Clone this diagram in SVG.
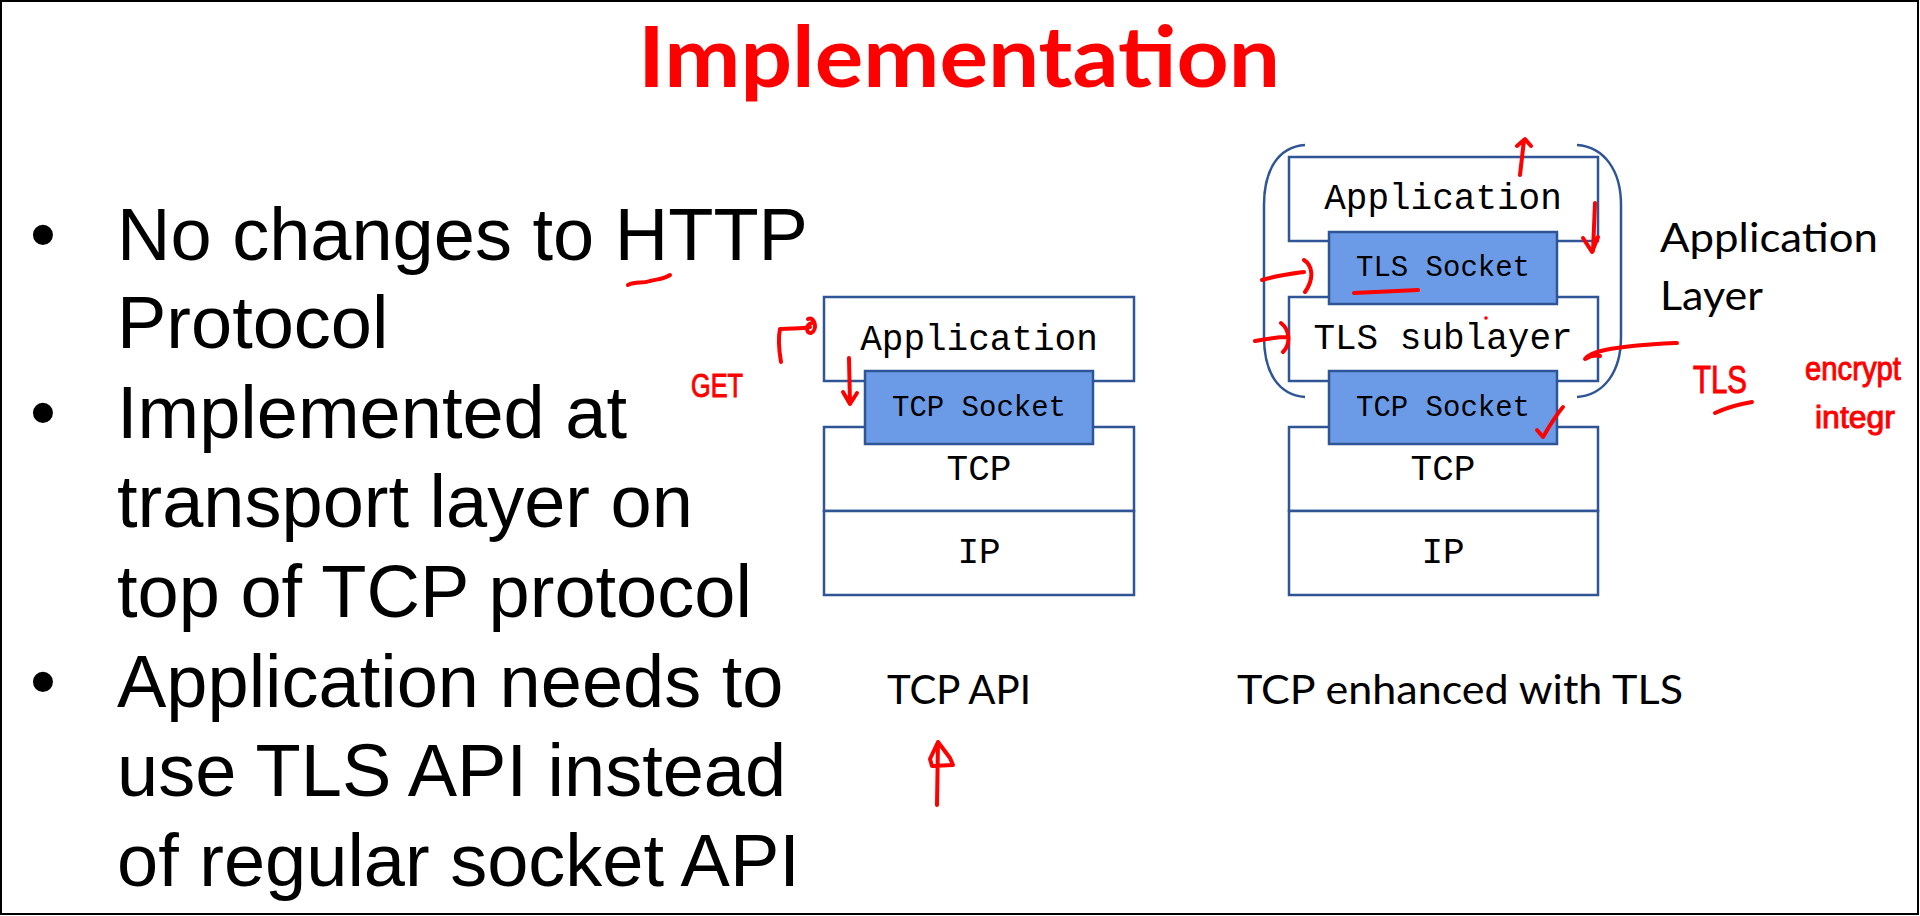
<svg xmlns="http://www.w3.org/2000/svg" width="1920" height="916" viewBox="0 0 1920 916">
  <defs>
    <style>
      .title { font-family: Lato, "Liberation Sans", sans-serif; font-weight: 700; font-size: 84px; fill: #FF0000; }
      .bullet { font-family: "Liberation Sans", Arial, sans-serif; font-size: 74px; fill: #000; }
      .caption { font-family: Lato, "Liberation Sans", sans-serif; font-size: 40px; fill: #000; }
      .layer rect { fill: #FFFFFF; stroke: #2F5597; stroke-width: 2.5; }
      .layer.sock rect { fill: #6B9BE6; }
      .layer text { font-family: "Liberation Mono", "Courier New", monospace; font-size: 36px; fill: #000; text-anchor: middle; }
      .layer.sock text { font-size: 29px; }
      .brace { fill: none; stroke: #2F5597; stroke-width: 2.5; }
      .ink { fill: none; stroke: #FF0000; stroke-width: 4; stroke-linecap: round; stroke-linejoin: round; }
      .inktext { font-family: "Liberation Sans", sans-serif; fill: #FF0000; stroke: #FF0000; stroke-width: 1; }
    </style>
  </defs>

  <rect width="1920" height="916" fill="#FFFFFF"/>
  <rect x="1" y="1" width="1917" height="913" fill="none" stroke="#000" stroke-width="2"/>

  <text class="title" x="638" y="87" textLength="642" lengthAdjust="spacingAndGlyphs">Implementation</text>

  <!-- bullet list -->
  <g id="bullets" class="bullet">
    <text x="43" y="260" text-anchor="middle">•</text>
    <text x="117" y="260">No changes to HTTP</text>
    <text x="117" y="348">Protocol</text>
    <text x="43" y="438" text-anchor="middle">•</text>
    <text x="117" y="438">Implemented at</text>
    <text x="117" y="527">transport layer on</text>
    <text x="117" y="617">top of TCP protocol</text>
    <text x="43" y="707" text-anchor="middle">•</text>
    <text x="117" y="707">Application needs to</text>
    <text x="117" y="796">use TLS API instead</text>
    <text x="117" y="886">of regular socket API</text>
  </g>

  <!-- plain TCP stack -->
  <g id="tcp-app" class="layer">
    <rect x="824" y="297" width="310" height="84"/>
    <text x="979" y="350">Application</text>
  </g>
  <g id="tcp-tcp" class="layer">
    <rect x="824" y="427" width="310" height="84"/>
    <text x="979" y="480">TCP</text>
  </g>
  <g id="tcp-ip" class="layer">
    <rect x="824" y="511" width="310" height="84"/>
    <text x="979" y="563">IP</text>
  </g>
  <g id="tcp-socket" class="layer sock">
    <rect x="865" y="371" width="228" height="73"/>
    <text x="979" y="416">TCP Socket</text>
  </g>
  <text id="tcp-api-label" class="caption" x="887" y="704" textLength="144" lengthAdjust="spacingAndGlyphs">TCP API</text>

  <!-- TLS enhanced stack -->
  <g id="tls-app" class="layer">
    <rect x="1289" y="157" width="309" height="84"/>
    <text x="1443" y="209">Application</text>
  </g>
  <g id="tls-sublayer" class="layer">
    <rect x="1289" y="297" width="309" height="84"/>
    <text x="1443" y="349">TLS sublayer</text>
  </g>
  <g id="tls-tcp" class="layer">
    <rect x="1289" y="427" width="309" height="84"/>
    <text x="1443" y="480">TCP</text>
  </g>
  <g id="tls-ip" class="layer">
    <rect x="1289" y="511" width="309" height="84"/>
    <text x="1443" y="563">IP</text>
  </g>
  <g id="tls-socket" class="layer sock">
    <rect x="1329" y="232" width="228" height="72"/>
    <text x="1443" y="276">TLS Socket</text>
  </g>
  <g id="tls-tcp-socket" class="layer sock">
    <rect x="1329" y="371" width="228" height="73"/>
    <text x="1443" y="416">TCP Socket</text>
  </g>
  <g id="app-layer-brace">
    <path class="brace" d="M1305,145 C1278,147 1264,170 1264,205 L1264,337 C1264,372 1278,395 1305,397"/>
    <path class="brace" d="M1577,145 C1604,147 1621,170 1621,205 L1621,337 C1621,372 1604,395 1577,397"/>
    <text class="caption" x="1660" y="252" textLength="218" lengthAdjust="spacingAndGlyphs">Application</text>
    <text class="caption" x="1660" y="310" textLength="103" lengthAdjust="spacingAndGlyphs">Layer</text>
  </g>
  <text id="tls-label" class="caption" x="1237" y="704" textLength="446" lengthAdjust="spacingAndGlyphs">TCP enhanced with TLS</text>

  <!-- red pen marks -->
  <g id="connectors">
    <path class="ink" d="M628,285 C636,281 642,284 650,281 C658,279 664,279 670,275"/>
    <path class="ink" d="M781,362 C779,350 778,338 780,329 C792,328 802,329 810,327"/>
    <path class="ink" d="M808,319 C815,316 818,330 811,333 C806,334 805,324 812,323"/>
    <path class="ink" d="M849,358 L850,404 M843,392 L850,404 L857,393"/>
    <path class="ink" d="M1520,175 L1524,140 M1517,146 L1525,139 L1531,146"/>
    <path class="ink" d="M1595,203 L1593,251 M1583,238 L1592,252 L1598,237"/>
    <path class="ink" d="M1262,280 C1275,276 1290,274 1304,272 M1304,260 C1312,265 1315,278 1305,292"/>
    <path class="ink" d="M1255,341 C1265,339 1278,337 1288,337 M1281,323 C1290,330 1291,344 1283,352"/>
    <path class="ink" d="M1677,343 C1655,344 1630,345 1605,350 C1595,352 1588,355 1585,359 C1590,356 1596,355 1600,356"/>
    <path class="ink" d="M1354,293 C1375,292 1395,291 1418,290"/>
    <path class="ink" d="M1537,430 L1543,437 C1550,425 1556,415 1563,407"/>
    <path class="ink" d="M1715,413 C1728,407 1740,404 1752,402"/>
    <path class="ink" d="M937,805 L938,742 M938,742 L930,759 L932,766 L953,765 L950,758 Z"/>
    <circle cx="1486" cy="318" r="1.8" fill="#FF0000"/>
  </g>
  <g id="pen-notes" class="inktext">
    <text x="691" y="397" font-size="34" textLength="52" lengthAdjust="spacingAndGlyphs">GET</text>
    <text x="1693" y="393" font-size="38" textLength="54" lengthAdjust="spacingAndGlyphs">TLS</text>
    <text x="1805" y="380" font-size="34" textLength="96" lengthAdjust="spacingAndGlyphs">encrypt</text>
    <text x="1815" y="428" font-size="32" textLength="80" lengthAdjust="spacingAndGlyphs">integr</text>
  </g>
</svg>
